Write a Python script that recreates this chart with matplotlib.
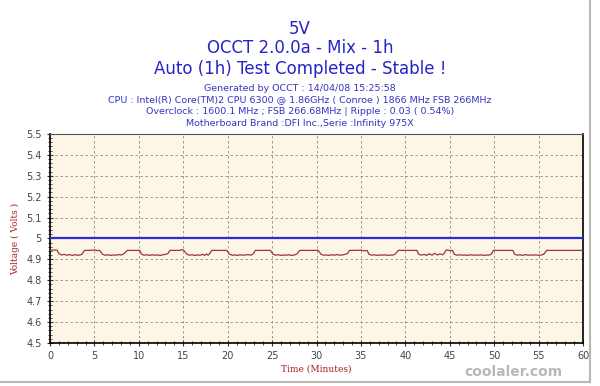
import matplotlib

matplotlib.use("Agg")
import matplotlib.pyplot as plt
from matplotlib.ticker import MultipleLocator
from matplotlib.lines import Line2D

title_lines = ["5V", "OCCT 2.0.0a - Mix - 1h", "Auto (1h) Test Completed - Stable !"]
info_lines = [
    "Generated by OCCT : 14/04/08 15:25:58",
    "CPU : Intel(R) Core(TM)2 CPU 6300 @ 1.86GHz ( Conroe ) 1866 MHz FSB 266MHz",
    "Overclock : 1600.1 MHz ; FSB 266.68MHz | Ripple : 0.03 ( 0.54%)",
    "Motherboard Brand :DFI Inc.,Serie :Infinity 975X",
]

nominal = 5.0

minutes = [
    0.0, 0.8, 1.0, 1.3, 1.6, 1.9, 2.2, 2.5, 2.8, 3.1, 3.4, 3.6,
    3.9, 4.5, 5.0, 5.3, 5.6,
    5.9, 6.2, 6.5, 6.8, 7.1, 7.4, 7.7, 8.0, 8.3,
    8.7, 10.1,
    10.3, 10.6, 10.9, 11.2, 11.5, 11.8, 12.1, 12.4, 12.7, 13.0, 13.3,
    13.5, 14.6, 14.9, 15.1,
    15.4, 15.7, 16.0, 16.3, 16.6, 16.9, 17.2, 17.4, 17.6, 17.8, 18.0,
    18.2, 19.9,
    20.2, 20.5, 20.8, 21.1, 21.4, 21.7, 22.0, 22.3, 22.6, 22.9,
    23.1, 24.8,
    25.1, 25.4, 25.7, 26.0, 26.3, 26.6, 26.9, 27.2, 27.5, 27.8,
    28.1, 30.2,
    30.5, 30.8, 31.1, 31.4, 31.7, 32.0, 32.3, 32.6, 32.9, 33.2, 33.5,
    33.7, 34.5, 35.0, 35.4, 35.7,
    35.9, 36.2, 36.5, 36.8, 37.1, 37.4, 37.7, 38.0, 38.3, 38.6, 38.9,
    39.2, 41.3,
    41.5, 41.8, 42.1, 42.4, 42.7, 43.0, 43.3, 43.6, 43.9, 44.2, 44.4,
    44.6, 45.0, 45.3,
    45.5, 45.8, 46.1, 46.4, 46.7, 47.0, 47.3, 47.6, 47.9, 48.2, 48.5, 48.8, 49.1, 49.4, 49.7,
    49.9, 52.1,
    52.3, 52.6, 52.9, 53.2, 53.5, 53.8, 54.1, 54.4, 54.7, 55.0, 55.3, 55.6,
    55.9, 60.0,
]

voltage = [
    4.945, 4.944, 4.928, 4.921, 4.924, 4.920, 4.923, 4.919, 4.922, 4.920, 4.921, 4.925,
    4.943, 4.943, 4.945, 4.942, 4.943,
    4.925, 4.920, 4.922, 4.919, 4.921, 4.920, 4.923, 4.921, 4.926,
    4.943, 4.943,
    4.925, 4.920, 4.922, 4.919, 4.922, 4.920, 4.921, 4.919, 4.922, 4.924, 4.929,
    4.943, 4.943, 4.947, 4.941,
    4.925, 4.920, 4.922, 4.919, 4.921, 4.920, 4.924, 4.919, 4.926, 4.920, 4.928,
    4.943, 4.943,
    4.925, 4.920, 4.921, 4.919, 4.922, 4.920, 4.921, 4.923, 4.920, 4.927,
    4.943, 4.943,
    4.925, 4.920, 4.922, 4.919, 4.921, 4.920, 4.922, 4.919, 4.921, 4.926,
    4.943, 4.943,
    4.925, 4.920, 4.921, 4.919, 4.922, 4.920, 4.923, 4.920, 4.921, 4.924, 4.928,
    4.943, 4.943, 4.944, 4.941, 4.943,
    4.925, 4.920, 4.922, 4.919, 4.921, 4.920, 4.922, 4.919, 4.921, 4.920, 4.927,
    4.943, 4.943,
    4.925, 4.920, 4.924, 4.919, 4.927, 4.920, 4.929, 4.921, 4.926, 4.922, 4.930,
    4.945, 4.942, 4.943,
    4.925, 4.920, 4.922, 4.920, 4.921, 4.919, 4.922, 4.920, 4.921, 4.920, 4.922, 4.919, 4.921, 4.920, 4.926,
    4.943, 4.943,
    4.925, 4.920, 4.922, 4.919, 4.923, 4.920, 4.921, 4.920, 4.922, 4.919, 4.921, 4.925,
    4.943, 4.943,
]

fig = plt.figure(figsize=(6.0, 3.86), dpi=100)
fig.patch.set_facecolor("white")
ax = fig.add_axes([0.0833, 0.1114, 0.8884, 0.5416])
ax.set_facecolor("#fdf6e6")

ax.axhline(nominal, color="#2b2bd9", lw=1.6, zorder=3)
ax.plot(minutes, voltage, color="#9c3535", lw=0.9, zorder=4)

ax.set_xlim(0, 60)
ax.set_ylim(4.5, 5.5)
ax.xaxis.set_major_locator(MultipleLocator(5))
ax.xaxis.set_minor_locator(MultipleLocator(1))
ax.yaxis.set_major_locator(MultipleLocator(0.1))
ax.yaxis.set_minor_locator(MultipleLocator(0.02))
ax.set_yticks([4.5, 4.6, 4.7, 4.8, 4.9, 5.0, 5.1, 5.2, 5.3, 5.4, 5.5])
ax.set_yticklabels(["4.5", "4.6", "4.7", "4.8", "4.9", "5", "5.1", "5.2", "5.3", "5.4", "5.5"])
ax.tick_params(axis="both", which="major", labelsize=7, colors="#333333",
               labelcolor="#444444", direction="inout", length=5, width=0.8)
ax.tick_params(axis="both", which="minor", direction="inout", length=3, width=0.6, colors="#333333")
ax.grid(True, which="major", linestyle=(0, (3, 3)), color="#8c8c8c", lw=0.6)

for side in ["left", "bottom", "right"]:
    ax.spines[side].set_color("black")
    ax.spines[side].set_linewidth(1.2)
ax.spines["top"].set_color("#555555")

ax.set_xlabel("Time (Minutes)", family="serif", fontsize=6.5, color="#a02020", labelpad=2)
ax.set_ylabel("Voltage ( Volts )", family="serif", fontsize=6.5, color="#a02020", labelpad=4)

# titles
for y, s in zip([0.925, 0.875, 0.822], title_lines):
    fig.text(0.5, y, s, ha="center", va="center", fontsize=12, color="#2424c8")
for y, s in zip([0.772, 0.741, 0.710, 0.679], info_lines):
    fig.text(0.5, y, s, ha="center", va="center", fontsize=6.8, color="#3535c0")

# watermark
fig.text(0.855, 0.035, "coolaler.com", ha="center", va="center", fontsize=10,
         color="#b8b8b8", fontweight="bold")

# frame edges of the original screenshot
fig.add_artist(Line2D([0.983, 0.983], [0.01, 1.0], transform=fig.transFigure, color="#b8b8b0", lw=1.5))
fig.add_artist(Line2D([0.0, 0.983], [0.01, 0.01], transform=fig.transFigure, color="#b8b8b0", lw=1.5))

fig.savefig("out.png", dpi=100)
